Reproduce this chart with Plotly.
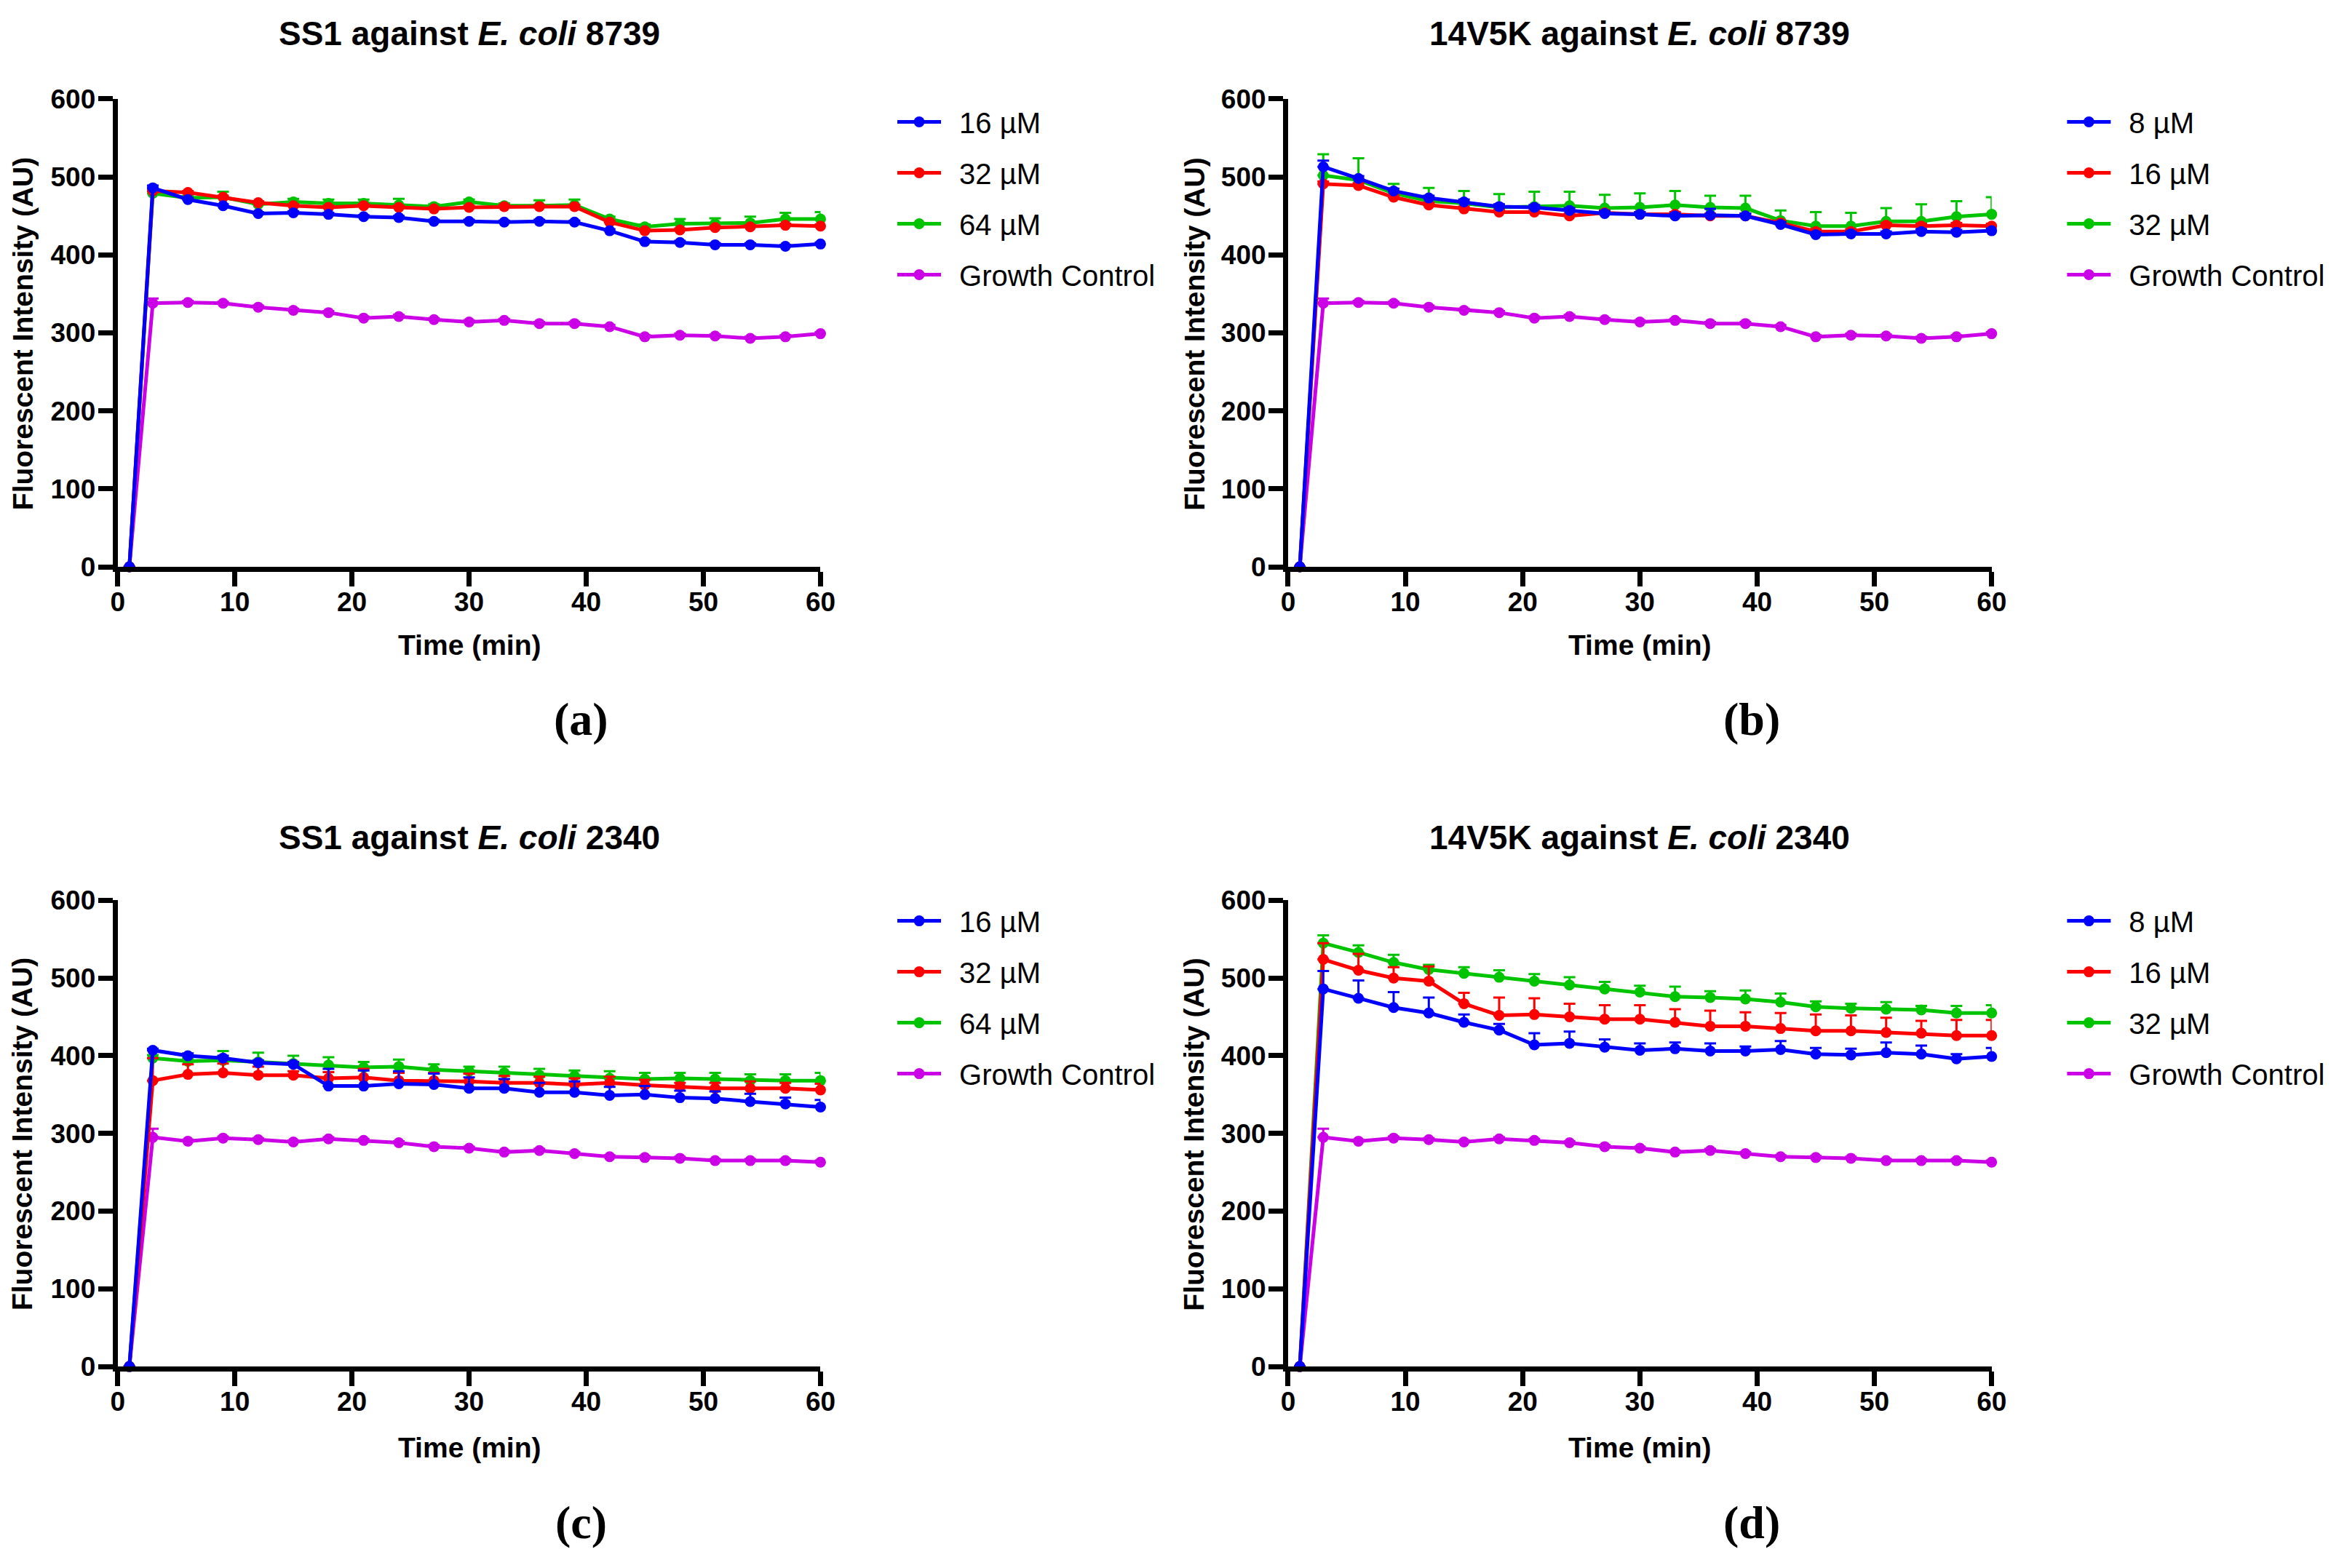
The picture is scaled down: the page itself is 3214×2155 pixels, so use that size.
import plotly.graph_objects as go

# sampling times (min)
time_min = [1, 3, 6, 9, 12, 15, 18, 21, 24, 27, 30, 33, 36, 39, 42, 45, 48, 51, 54, 57, 60]

# (a) SS1 against E. coli 8739
ss1_8739_16 = [0, 486, 471, 463, 453, 454, 452, 449, 448, 443, 443, 442, 443, 442, 431, 417, 416, 413, 413, 411, 414]
ss1_8739_32 = [0, 482, 480, 474, 467, 463, 461, 463, 461, 459, 461, 462, 462, 462, 442, 431, 432, 435, 436, 438, 437]
ss1_8739_64 = [0, 479, 473, 474, 465, 468, 466, 466, 464, 462, 468, 463, 463, 464, 446, 436, 440, 440, 441, 446, 446]
ss1_8739_16_err = [0, 3, 2, 2, 2, 2, 2, 2, 2, 2, 2, 2, 2, 2, 2, 2, 2, 2, 2, 2, 2]
ss1_8739_32_err = [0, 2, 2, 2, 2, 2, 2, 2, 2, 2, 2, 2, 2, 2, 2, 2, 2, 2, 2, 2, 2]
ss1_8739_64_err = [0, 3, 3, 7, 3, 4, 5, 5, 8, 3, 3, 3, 7, 7, 3, 3, 6, 7, 8, 8, 9]

# (b) 14V5K against E. coli 8739
k14_8739_8 = [0, 513, 498, 482, 473, 468, 462, 461, 457, 453, 452, 450, 451, 450, 439, 426, 427, 427, 430, 429, 431]
k14_8739_16 = [0, 491, 489, 474, 464, 459, 455, 455, 450, 454, 452, 452, 450, 450, 441, 430, 430, 438, 437, 438, 437]
k14_8739_32 = [0, 502, 496, 479, 469, 466, 461, 462, 463, 460, 461, 464, 461, 460, 444, 437, 437, 443, 443, 449, 452]
k14_8739_8_err = [0, 8, 3, 3, 3, 3, 3, 3, 3, 3, 3, 3, 8, 3, 3, 3, 3, 3, 3, 3, 3]
k14_8739_16_err = [0, 3, 3, 3, 3, 3, 3, 3, 3, 3, 3, 3, 3, 3, 3, 3, 3, 3, 3, 3, 3]
k14_8739_32_err = [0, 27, 28, 12, 17, 16, 17, 19, 18, 17, 18, 18, 15, 16, 13, 18, 17, 17, 22, 20, 22]

# growth control, E. coli 8739
gc_8739 = [0, 338, 339, 338, 333, 329, 326, 319, 321, 317, 314, 316, 312, 312, 308, 295, 297, 296, 293, 295, 299]
gc_8739_err = [0, 6, 2, 2, 2, 2, 2, 2, 2, 2, 2, 2, 2, 2, 2, 2, 2, 2, 2, 2, 2]

# (c) SS1 against E. coli 2340
ss1_2340_16 = [0, 407, 400, 397, 391, 389, 361, 361, 364, 363, 358, 358, 353, 353, 349, 350, 346, 345, 341, 338, 334]
ss1_2340_32 = [0, 368, 376, 378, 375, 375, 371, 372, 368, 368, 367, 365, 365, 363, 365, 362, 360, 358, 358, 358, 356]
ss1_2340_64 = [0, 397, 393, 394, 392, 390, 388, 385, 386, 382, 380, 378, 375, 374, 371, 370, 371, 370, 368, 368, 368]
ss1_2340_16_err = [0, 2, 3, 3, 3, 3, 22, 20, 16, 14, 14, 12, 12, 14, 11, 11, 9, 9, 10, 8, 9]
ss1_2340_32_err = [0, 29, 13, 12, 11, 5, 8, 11, 10, 10, 10, 9, 8, 8, 8, 7, 5, 7, 9, 7, 8]
ss1_2340_64_err = [0, 4, 4, 12, 12, 10, 10, 7, 9, 7, 6, 8, 8, 7, 9, 8, 7, 8, 8, 8, 10]

# (d) 14V5K against E. coli 2340
k14_2340_8 = [0, 486, 474, 462, 455, 443, 433, 414, 416, 411, 407, 409, 406, 406, 408, 402, 401, 404, 402, 396, 399]
k14_2340_16 = [0, 524, 510, 500, 496, 467, 452, 453, 450, 447, 447, 443, 438, 438, 435, 432, 432, 430, 429, 426, 426]
k14_2340_32 = [0, 545, 533, 520, 511, 506, 501, 496, 491, 486, 482, 476, 475, 473, 469, 463, 461, 460, 459, 455, 455]
k14_2340_8_err = [0, 23, 23, 20, 20, 10, 8, 15, 15, 10, 9, 8, 10, 6, 11, 8, 8, 13, 11, 6, 11]
k14_2340_16_err = [0, 21, 21, 14, 19, 14, 23, 21, 17, 18, 18, 17, 20, 18, 20, 21, 20, 19, 16, 20, 20]
k14_2340_32_err = [0, 10, 9, 10, 6, 8, 9, 9, 10, 9, 8, 13, 8, 11, 11, 7, 6, 9, 5, 9, 10]

# growth control, E. coli 2340
gc_2340 = [0, 295, 290, 294, 292, 289, 293, 291, 288, 283, 281, 276, 278, 274, 270, 269, 268, 265, 265, 265, 263]
gc_2340_err = [0, 11, 2, 2, 2, 2, 2, 2, 2, 2, 2, 2, 2, 2, 2, 2, 2, 2, 2, 2, 2]

x_ticks = [0, 10, 20, 30, 40, 50, 60]
y_ticks = [0, 100, 200, 300, 400, 500, 600]

SANS = "Liberation Sans, Arial, sans-serif"
SERIF = "Liberation Serif, Times New Roman, serif"
BLUE, RED, GREEN, PURPLE = "#0000FF", "#FF0000", "#00C400", "#CC00E6"

panels = [
    dict(title="SS1 against <i>E. coli</i> 8739", tag="(a)",
         series=[("16 µM", ss1_8739_16, ss1_8739_16_err, BLUE),
                 ("32 µM", ss1_8739_32, ss1_8739_32_err, RED),
                 ("64 µM", ss1_8739_64, ss1_8739_64_err, GREEN),
                 ("Growth Control", gc_8739, gc_8739_err, PURPLE)]),
    dict(title="14V5K against <i>E. coli</i> 8739", tag="(b)",
         series=[("8 µM", k14_8739_8, k14_8739_8_err, BLUE),
                 ("16 µM", k14_8739_16, k14_8739_16_err, RED),
                 ("32 µM", k14_8739_32, k14_8739_32_err, GREEN),
                 ("Growth Control", gc_8739, gc_8739_err, PURPLE)]),
    dict(title="SS1 against <i>E. coli</i> 2340", tag="(c)",
         series=[("16 µM", ss1_2340_16, ss1_2340_16_err, BLUE),
                 ("32 µM", ss1_2340_32, ss1_2340_32_err, RED),
                 ("64 µM", ss1_2340_64, ss1_2340_64_err, GREEN),
                 ("Growth Control", gc_2340, gc_2340_err, PURPLE)]),
    dict(title="14V5K against <i>E. coli</i> 2340", tag="(d)",
         series=[("8 µM", k14_2340_8, k14_2340_8_err, BLUE),
                 ("16 µM", k14_2340_16, k14_2340_16_err, RED),
                 ("32 µM", k14_2340_32, k14_2340_32_err, GREEN),
                 ("Growth Control", gc_2340, gc_2340_err, PURPLE)]),
]

# page body has an 8px margin, so pull everything back up/left a bit
dx, dy = -8 / 3214, 8 / 2155

x_dom = [(0.0503 + dx, 0.3508 + dx), (0.5507 + dx, 0.8515 + dx)]
y_dom = [(0.6385 + dy, 0.9369 + dy), (0.1285 + dy, 0.4258 + dy)]
title_y = [0.9788 + dy, 0.466 + dy]
xtitle_y = [0.5886 + dy, 0.0768 + dy]
ytitle_y = [0.787 + dy, 0.2766 + dy]
ytitle_x = [0.0097 + dx, 0.5105 + dx]
tag_x = [0.2485 + dx, 0.749 + dx]
tag_y = [0.5414 + dy, 0.029 + dy]
legend_x = [0.3796, 0.8797]
legend_y = [0.9411, 0.4315]

fig = go.Figure()
annotations = []

for i, p in enumerate(panels):
    row, col = i // 2, i % 2
    k = i + 1
    xa = "x" if k == 1 else "x%d" % k
    ya = "y" if k == 1 else "y%d" % k
    leg = "legend" if k == 1 else "legend%d" % k

    # draw growth control first, lowest concentration on top
    for rank in [3, 2, 1, 0]:
        name, vals, err, color = p["series"][rank]
        fig.add_trace(go.Scatter(
            x=time_min, y=vals, name="\u2002" + name, mode="lines+markers",
            line=dict(color=color, width=5),
            marker=dict(color=color, size=15),
            error_y=dict(type="data", symmetric=False, array=err,
                         arrayminus=[0] * len(err), color=color,
                         thickness=3, width=8),
            xaxis=xa, yaxis=ya, legend=leg,
            legendgroup="p%d_%d" % (k, rank), legendrank=rank + 1,
            cliponaxis=False))

    axis_common = dict(showline=True, linewidth=7, linecolor="black",
                       ticks="outside", ticklen=20, tickwidth=7, tickcolor="black",
                       showgrid=False, zeroline=False, automargin=False,
                       tickfont=dict(family=SANS, size=37, color="black", weight="bold"))
    fig.update_layout({
        ("xaxis" if k == 1 else "xaxis%d" % k): dict(
            domain=list(x_dom[col]), anchor=ya, range=[0, 60],
            tickvals=x_ticks, ticklabelstandoff=-10, **axis_common),
        ("yaxis" if k == 1 else "yaxis%d" % k): dict(
            domain=list(y_dom[row]), anchor=xa, range=[0, 600],
            tickvals=y_ticks, ticklabelstandoff=-4, **axis_common),
        leg: dict(x=legend_x[col], y=legend_y[row], xanchor="left", yanchor="top",
                  font=dict(family=SANS, size=40, color="black"),
                  bgcolor="rgba(0,0,0,0)", tracegroupgap=15, itemwidth=60),
    })

    xc = sum(x_dom[col]) / 2
    annotations += [
        dict(text="<b>" + p["title"] + "</b>", x=xc, y=title_y[row],
             font=dict(family=SANS, size=46, color="black")),
        dict(text="<b>Time (min)</b>", x=xc, y=xtitle_y[row],
             font=dict(family=SANS, size=39, color="black")),
        dict(text="<b>Fluorescent Intensity (AU)</b>", x=ytitle_x[col], y=ytitle_y[row],
             textangle=-90, font=dict(family=SANS, size=39, color="black")),
        dict(text="<b>" + p["tag"] + "</b>", x=tag_x[col], y=tag_y[row],
             font=dict(family=SERIF, size=64, color="black")),
    ]

for a in annotations:
    a.update(xref="paper", yref="paper", showarrow=False, xanchor="center", yanchor="middle")

fig.update_layout(width=3214, height=2155, margin=dict(l=0, r=0, t=0, b=0),
                  paper_bgcolor="white", plot_bgcolor="white",
                  annotations=annotations, showlegend=True)

fig.write_html("out.html")
